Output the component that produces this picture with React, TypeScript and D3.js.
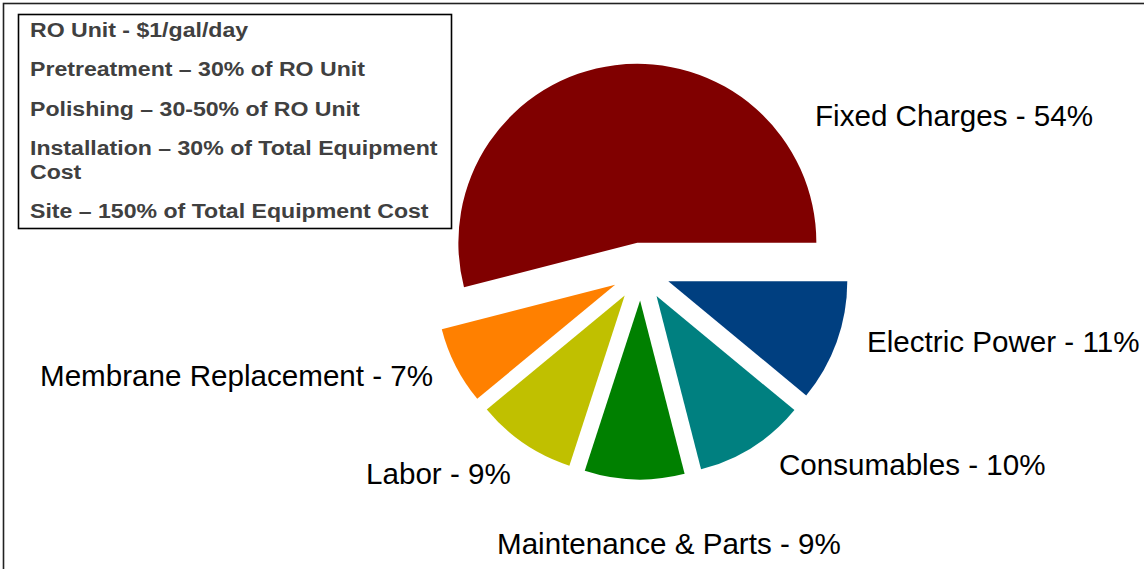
import React from 'react'
import * as d3 from 'd3'

// clockwise from 3 o'clock
const categories = [
  'Electric Power',
  'Consumables',
  'Maintenance & Parts',
  'Labor',
  'Membrane Replacement',
  'Fixed Charges'
]
const shares = [11, 10, 9, 9, 7, 54]
const colours = ['#003f80', '#008080', '#008000', '#c0c000', '#ff8000', '#800000']

const notes = [
  ['RO Unit - $1/gal/day'],
  ['Pretreatment \u2013 30% of RO Unit'],
  ['Polishing \u2013 30-50% of RO Unit'],
  ['Installation \u2013 30% of Total Equipment', 'Cost'],
  ['Site \u2013 150% of Total Equipment Cost']
]

// where excel dropped each label (start x, baseline)
const labelAt: [number, number][] = [
  [867, 352],
  [779, 475],
  [497, 554],
  [366, 484],
  [40, 386],
  [815, 126]
]

const W = 1144
const H = 569
const cx = 641
const cy = 271.5
const radius = 179
const explode = 29

export default function App() {
  const slices = d3.pie<number>()
    .sort(null)
    .startAngle(Math.PI / 2)
    .endAngle(Math.PI / 2 + Math.PI * 2)(shares)

  const arc = d3.arc<d3.PieArcDatum<number>>()
    .innerRadius(0)
    .outerRadius(radius)

  const font = '"Liberation Sans", Arial, sans-serif'

  let lineY = 37
  const noteLines: { text: string, y: number }[] = []
  notes.forEach(block => {
    block.forEach((t, j) => {
      noteLines.push({ text: t, y: lineY })
      lineY += j < block.length - 1 ? 23.5 : 39.5
    })
  })

  return (
    <div style={{ position: 'absolute', left: 0, top: 0 }}>
      <svg width={W} height={H} style={{ display: 'block' }}>
        <rect x={0} y={0} width={W} height={H} fill="#fff" />
        <rect x={3.5} y={3.5} width={W + 20} height={H + 20} fill="none" stroke="#222" strokeWidth={1.6} />

        <g transform={`translate(${cx}, ${cy})`}>
          {slices.map((s, i) => {
            const mid = (s.startAngle + s.endAngle) / 2
            const dx = Math.sin(mid) * explode
            const dy = -Math.cos(mid) * explode
            return (
              <path
                key={categories[i]}
                d={arc(s) || ''}
                transform={`translate(${dx}, ${dy})`}
                fill={colours[i]}
              />
            )
          })}
        </g>

        {categories.map((c, i) => (
          <text
            key={c}
            x={labelAt[i][0]}
            y={labelAt[i][1]}
            fontFamily={font}
            fontSize={29.6}
            fill="#000"
          >
            {`${c} - ${shares[i]}%`}
          </text>
        ))}

        <rect x={18.5} y={14.5} width={433} height={214} fill="#fff" stroke="#000" strokeWidth={1.6} />
        <g transform="translate(30, 0) scale(1.1, 1)">
          {noteLines.map((l, i) => (
            <text
              key={i}
              x={0}
              y={l.y}
              fontFamily={font}
              fontWeight="bold"
              fontSize={21}
              fill="#404040"
            >
              {l.text}
            </text>
          ))}
        </g>
      </svg>
    </div>
  )
}
